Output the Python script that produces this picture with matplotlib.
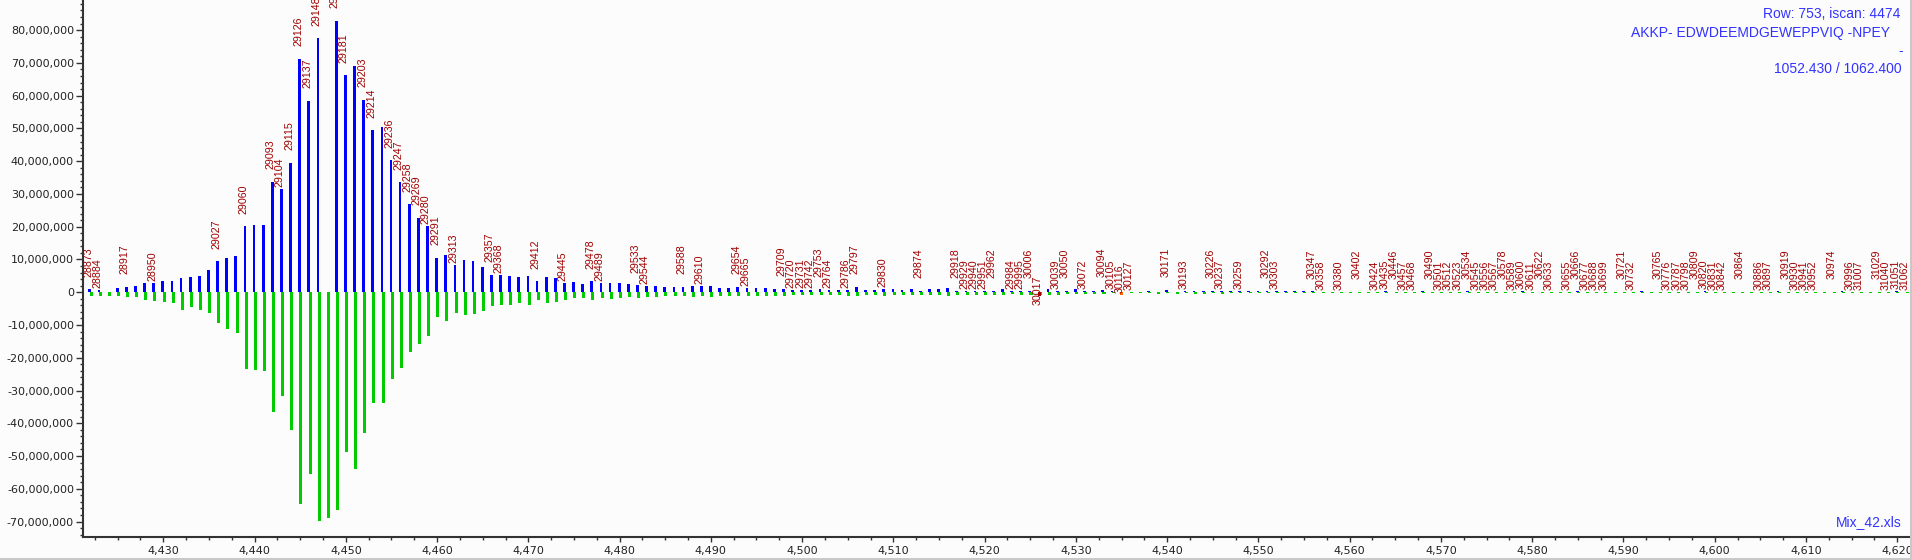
import numpy as np
import matplotlib
matplotlib.use("Agg")
import matplotlib.pyplot as plt
from matplotlib.ticker import MultipleLocator, FuncFormatter
from matplotlib.patches import Rectangle

# peak intensities in millions, one peak per m/z step starting at 4422
blue = [0.9, 0.7, 0.1, 1.4, 1.7, 2.0, 2.8, 2.9, 3.4, 3.4,
        4.4, 4.7, 5.0, 6.8, 9.4, 10.4, 11.0, 20.1, 20.5, 20.5,
        33.8, 31.6, 39.5, 71.2, 58.5, 77.6, 0.1, 82.8, 66.3, 69.1,
        58.8, 49.4, 50.3, 40.3, 33.5, 26.8, 22.8, 20.2, 10.6, 11.3,
        8.2, 9.8, 9.5, 7.7, 5.4, 5.2, 5.0, 4.7, 5.0, 3.3,
        4.7, 4.4, 2.7, 3.1, 2.5, 3.3, 2.7, 2.8, 2.8, 2.5,
        2.1, 1.9, 1.9, 1.6, 1.6, 1.6, 1.9, 1.9, 1.9, 1.3,
        1.3, 1.6, 1.3, 1.3, 1.3, 1.0, 1.0, 0.7, 0.7, 0.7,
        0.9, 0.7, 0.7, 0.7, 1.6, 0.7, 0.7, 0.9, 1.0, 0.7,
        1.0, 0.5, 1.0, 1.0, 1.3, 0.5, 0.5, 0.5, 0.5, 0.5,
        1.0, 0.3, 0.5, 0.5, 0.0, 1.0, 0.5, 0.5, 1.0, 0.3,
        0.3, 0.7, 0.3, 0.0, 0.0, 0.0, 0.3, 0.0, 0.7, 0.0,
        0.3, 0.3, 0.3, 0.5, 0.3, 0.3, 0.3, 0.3, 0.3, 0.5,
        0.3, 0.3, 0.3, 0.3, 0.3, 0.2, 0.2, 0.2, 0.2, 0.2,
        0.2, 0.2, 0.3, 0.2, 0.2, 0.2, 0.3, 0.2, 0.0, 0.2,
        0.2, 0.3, 0.2, 0.2, 0.2, 0.2, 0.2, 0.3, 0.2, 0.2,
        0.2, 0.2, 0.2, 0.3, 0.2, 0.2, 0.0, 0.2, 0.2, 0.2,
        0.3, 0.2, 0.2, 0.2, 0.2, 0.2, 0.2, 0.3, 0.2, 0.2,
        0.2, 0.2, 0.0, 0.2, 0.2, 0.3, 0.2, 0.2, 0.2, 0.2,
        0.2, 0.2, 0.3, 0.2, 0.2, 0.2, 0.2, 0.2, 0.3, 0.2]

green = [-1.0, -1.0, -1.3, -1.3, -1.6, -1.6, -2.3, -2.6, -2.9, -3.2,
         -5.4, -4.5, -5.4, -6.3, -9.3, -11.2, -12.4, -23.3, -23.6, -23.9,
         -36.7, -31.8, -42.2, -64.7, -55.6, -69.9, -69.0, -66.5, -48.9, -54.0,
         -43.1, -33.9, -33.7, -26.4, -23.0, -18.2, -15.7, -13.5, -7.7, -8.9,
         -6.2, -7.1, -6.5, -5.6, -4.1, -3.8, -3.8, -3.4, -3.8, -2.5,
         -3.4, -3.1, -2.5, -1.9, -1.9, -2.5, -1.9, -2.2, -1.9, -1.6,
         -1.9, -1.6, -1.5, -1.3, -1.3, -1.3, -1.6, -1.3, -1.6, -1.3,
         -1.0, -1.3, -1.0, -1.0, -1.0, -1.0, -1.0, -0.7, -0.9, -0.9,
         -0.9, -0.9, -0.7, -1.2, -1.3, -0.8, -0.8, -1.1, -0.8, -0.8,
         -0.8, -0.8, -0.8, -0.8, -1.1, -0.8, -0.8, -0.8, -0.8, -0.8,
         -0.8, -0.4, -0.8, -0.8, -0.8, -0.8, -0.8, -0.4, -0.5, -0.5,
         -0.4, -0.4, -0.3, 0.0, -0.3, -0.1, -0.2, -0.5, -0.3, -0.5,
         -0.3, -0.5, -0.5, -0.3, -0.5, -0.3, -0.3, -0.3, -0.3, -0.3,
         -0.3, -0.3, -0.3, -0.3, -0.3, -0.3, -0.3, -0.3, -0.3, -0.3,
         -0.3, -0.2, -0.3, -0.2, -0.3, -0.2, -0.2, -0.3, -0.2, -0.2,
         -0.3, -0.2, -0.2, -0.3, -0.2, -0.2, -0.3, -0.2, -0.2, -0.3,
         -0.2, -0.2, -0.3, -0.2, -0.2, -0.3, -0.2, -0.2, -0.2, -0.3,
         -0.2, -0.2, -0.3, -0.2, -0.2, -0.2, -0.3, -0.2, -0.2, -0.3,
         -0.2, -0.2, -0.2, -0.3, -0.2, -0.2, -0.3, -0.2, -0.2, -0.2,
         -0.3, -0.2, -0.2, -0.3, -0.2, -0.2, -0.2, -0.3, -0.2, -0.2]

# two odd peaks drawn in other colours
flag_idx = [104, 113]
flag_val = [-1.2, -0.7]

mz_first = 4422
scan_first = 28873
scan_step = 11

peak_labels = [28873, 28884, 28917, 28950, 29027, 29060, 29093, 29104, 29115, 29126,
               29137, 29148, 29170, 29181, 29203, 29214, 29236, 29247, 29258, 29269,
               29280, 29291, 29313, 29357, 29368, 29412, 29445, 29478, 29489, 29533,
               29544, 29588, 29610, 29654, 29665, 29709, 29720, 29731, 29742, 29753,
               29764, 29786, 29797, 29830, 29874, 29918, 29929, 29940, 29951, 29962,
               29984, 29995, 30006, 30017, 30039, 30050, 30072, 30094, 30105, 30116,
               30127, 30171, 30193, 30226, 30237, 30259, 30292, 30303, 30347, 30358,
               30380, 30402, 30424, 30435, 30446, 30457, 30468, 30490, 30501, 30512,
               30523, 30534, 30545, 30556, 30567, 30578, 30589, 30600, 30611, 30622,
               30633, 30655, 30666, 30677, 30688, 30699, 30721, 30732, 30765, 30776,
               30787, 30798, 30809, 30820, 30831, 30842, 30864, 30886, 30897, 30919,
               30930, 30941, 30952, 30974, 30996, 31007, 31029, 31040, 31051, 31062]

# labels sitting right on the peak (the rest are lifted a bit)
low_labels = {28884, 28950, 29104, 29280, 29313, 29368, 29445, 29489, 29544, 29610,
              29665, 29720, 29731, 29742, 29764, 29786, 29830, 29929, 29940, 29951,
              29984, 29995, 30039, 30072, 30105, 30116, 30127, 30193, 30237, 30259,
              30303, 30358, 30380, 30424, 30435, 30457, 30468, 30501, 30512, 30523,
              30545, 30556, 30567, 30589, 30600, 30611, 30633, 30655, 30677, 30688,
              30699, 30732, 30776, 30787, 30798, 30820, 30831, 30842, 30886, 30897,
              30930, 30941, 30952, 30996, 31007, 31040, 31051, 31062}
below_labels = {30017}

info_lines = ["Row: 753, iscan: 4474", "AKKP- EDWDEEMDGEWEPPVIQ -NPEY", "-", "1052.430 / 1062.400"]
file_name = "Mix_42.xls"

W, H = 1912, 560
bg = '#fcfcfc'
fig = plt.figure(figsize=(W / 100, H / 100), dpi=100, facecolor=bg)
ax = fig.add_axes([83 / W, (H - 537.3) / H, (1910 - 83) / W, 537.3 / H])
ax.set_facecolor(bg)

mz = np.arange(mz_first, mz_first + len(blue))
b = np.array(blue) * 1e6
g = np.array(green) * 1e6

ax.bar(mz - 0.05, b, width=0.3, color='#0000ff', linewidth=0, antialiased=False)
ax.bar(mz + 0.08, g, width=0.33, color='#00cc00', linewidth=0, antialiased=False)
fi = np.array(flag_idx)
ax.bar(mz[fi[:1]], np.array(flag_val[:1]) * 1e6, width=0.3, color='#a00000', linewidth=0, antialiased=False)
ax.bar(mz[fi[1:]], np.array(flag_val[1:]) * 1e6, width=0.3, color='#ff6600', linewidth=0, antialiased=False)

tips = b.copy()
for i, v in zip(flag_idx, flag_val):
    if tips[i] == 0:
        tips[i] = v * 1e6

for lab in peak_labels:
    k = (lab - scan_first) // scan_step
    if lab in below_labels:
        off = -9
    elif lab in low_labels:
        off = 2
    else:
        off = 12.5
    ax.annotate(str(lab), xy=(mz[k], tips[k]), xytext=(-2, off), textcoords='offset pixels',
                rotation=90, ha='center', va='bottom', fontsize=7.7, color='#a00000',
                family='Liberation Sans', annotation_clip=False)

ax.set_xlim(4421.2, 4621.4)
ax.set_ylim(-74.8e6, 89.2e6)
ax.xaxis.set_major_locator(MultipleLocator(10))
ax.xaxis.set_minor_locator(MultipleLocator(2.5))
ax.yaxis.set_major_locator(MultipleLocator(10e6))
ax.yaxis.set_minor_locator(MultipleLocator(2e6))
ax.xaxis.set_major_formatter(FuncFormatter(lambda v, p: f'{v:,.0f}'))
ax.yaxis.set_major_formatter(FuncFormatter(lambda v, p: f'{v:,.0f}'))

for s in ['top', 'right']:
    ax.spines[s].set_visible(False)
for s in ['left', 'bottom']:
    ax.spines[s].set_color('#333333')
    ax.spines[s].set_linewidth(1.5)

ax.tick_params(axis='y', which='major', length=5, width=1, color='#333333', pad=1.5,
               labelsize=8, labelcolor='#222222')
ax.tick_params(axis='y', which='minor', length=2.5, width=1, color='#333333')
ax.tick_params(axis='x', which='major', length=3.5, width=1, color='#333333', pad=3,
               labelsize=8, labelcolor='#222222')
ax.tick_params(axis='x', which='minor', length=2.5, width=1, color='#333333')
for t in ax.get_xticklabels() + ax.get_yticklabels():
    t.set_family('DejaVu Sans')

# info text, top right
info_x = [1900.7, 1890, 1903, 1902]
info_base = [18.5, 36.8, 55.0, 73.2]
for txt, x, y in zip(info_lines, info_x, info_base):
    fig.text(x / W, 1 - y / H, txt, ha='right', va='baseline', fontsize=10,
             color='#3333ff', family='Liberation Sans')
fig.text(1901.7 / W, 1 - 526.5 / H, file_name, ha='right', va='baseline', fontsize=10,
         color='#3333ff', family='Liberation Sans')

# window frame on the right and bottom
fig.add_artist(Rectangle((1910 / W, 0), 2 / W, 1, transform=fig.transFigure,
                         color='#c8c8c8', lw=0))
fig.add_artist(Rectangle((0, 0), 1, 2.5 / H, transform=fig.transFigure,
                         color='#c8c8c8', lw=0))

fig.savefig('out.png', dpi=100, facecolor=bg)
